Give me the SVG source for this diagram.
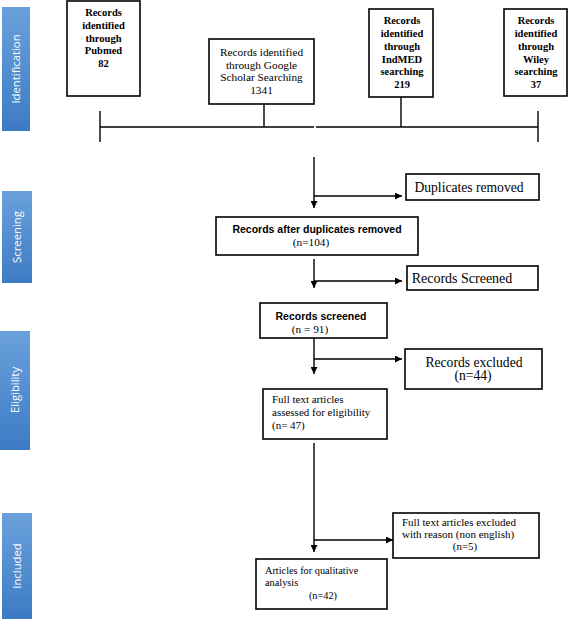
<svg xmlns="http://www.w3.org/2000/svg" width="568" height="619" viewBox="0 0 568 619">
<defs>
<linearGradient id="bg" x1="0" y1="0" x2="0" y2="1">
<stop offset="0" stop-color="#6aa1dc"/>
<stop offset="1" stop-color="#3c7bc4"/>
</linearGradient>
<marker id="ah" viewBox="0 0 10 10" refX="10" refY="5" markerWidth="7" markerHeight="7" markerUnits="userSpaceOnUse" orient="auto">
<path d="M0,0 L10,5 L0,10 z" fill="#000"/>
</marker>
</defs>
<style>
.box{fill:#fff;stroke:#000;stroke-width:1.6}
.phase{fill:url(#bg)}
.pt{fill:#fff;font-family:"Open Sans","DejaVu Sans",sans-serif;font-size:11.3px;text-anchor:middle}
.s{font-family:"Liberation Serif",serif;font-size:11.3px;fill:#000}
.sb{font-family:"Liberation Serif",serif;font-size:10.5px;font-weight:bold;fill:#000}
.c{text-anchor:middle}
.sans{font-family:"Liberation Sans",Arial,sans-serif;font-size:10.5px;font-weight:bold;fill:#000}
.f11{font-size:11px}
.f10{font-size:10.3px}
.f13{font-size:13.6px}
.f14{font-size:14px}
.ln{stroke:#000;stroke-width:1.4;fill:none}
.ar{stroke:#000;stroke-width:1.4;fill:none;marker-end:url(#ah)}
</style>

<g id="phases">
<rect class="phase" x="2" y="7" width="28" height="124"/>
<text class="pt" transform="translate(20,69) rotate(-90)">Identification</text>
<rect class="phase" x="2" y="191" width="30" height="92"/>
<text class="pt" transform="translate(21,237) rotate(-90)">Screening</text>
<rect class="phase" x="0" y="331" width="30" height="119"/>
<text class="pt" transform="translate(19,390) rotate(-90)">Eligibility</text>
<rect class="phase" x="2" y="513" width="30" height="106"/>
<text class="pt" transform="translate(21,566) rotate(-90)">Included</text>
</g>

<g id="connectors">
<line class="ln" x1="100" y1="127" x2="314" y2="127"/>
<line class="ln" x1="316" y1="127" x2="538" y2="127"/>
<line class="ln" x1="100" y1="111" x2="100" y2="142"/>
<line class="ln" x1="538" y1="111" x2="538" y2="142"/>
<line class="ln" x1="264" y1="104" x2="264" y2="127"/>
<line class="ln" x1="401" y1="97" x2="401" y2="127"/>
<line class="ar" x1="314" y1="157" x2="314" y2="208"/>
<line class="ar" x1="314" y1="196" x2="402" y2="196"/>
<line class="ar" x1="314" y1="259" x2="314" y2="288"/>
<line class="ar" x1="314" y1="281" x2="402" y2="281"/>
<line class="ar" x1="314" y1="338" x2="314" y2="374"/>
<line class="ar" x1="314" y1="359" x2="402" y2="359"/>
<line class="ar" x1="314" y1="443" x2="314" y2="552"/>
<line class="ar" x1="314" y1="540" x2="393" y2="540"/>
</g>

<g id="pubmed">
<rect class="box" x="67" y="1" width="73" height="95"/>
<text class="sb c" x="103.5" y="16">Records</text>
<text class="sb c" x="103.5" y="29">identified</text>
<text class="sb c" x="103.5" y="41.5">through</text>
<text class="sb c" x="103.5" y="54">Pubmed</text>
<text class="sb c" x="103.5" y="67">82</text>
</g>

<g id="google">
<rect class="box" x="209" y="39" width="105" height="65"/>
<text class="s c" x="261.5" y="56">Records identified</text>
<text class="s c" x="261.5" y="68.5">through Google</text>
<text class="s c" x="261.5" y="81">Scholar Searching</text>
<text class="s c" x="261.5" y="93.5">1341</text>
</g>

<g id="indmed">
<rect class="box" x="369" y="9" width="64" height="88"/>
<text class="sb c" x="402" y="24">Records</text>
<text class="sb c" x="402" y="37">identified</text>
<text class="sb c" x="402" y="50">through</text>
<text class="sb c" x="402" y="62.5">IndMED</text>
<text class="sb c" x="402" y="75">searching</text>
<text class="sb c" x="402" y="88">219</text>
</g>

<g id="wiley">
<rect class="box" x="504" y="9" width="63" height="87"/>
<text class="sb c" x="536" y="24">Records</text>
<text class="sb c" x="536" y="37">identified</text>
<text class="sb c" x="536" y="50">through</text>
<text class="sb c" x="536" y="62.5">Wiley</text>
<text class="sb c" x="536" y="75">searching</text>
<text class="sb c" x="536" y="88">37</text>
</g>

<g id="duplicates">
<rect class="box" x="406" y="174" width="133" height="26"/>
<text class="s c f13" x="469" y="192">Duplicates removed</text>
</g>

<g id="after-dup">
<rect class="box" x="216" y="217" width="202" height="38"/>
<text class="sans c" x="317" y="233">Records after duplicates removed</text>
<text class="s c" x="311" y="245.5">(n=104)</text>
</g>

<g id="records-screened-side">
<rect class="box" x="407" y="266" width="131" height="24"/>
<text class="s c f14" x="462" y="283">Records Screened</text>
</g>

<g id="records-screened">
<rect class="box" x="260" y="303" width="127" height="35"/>
<text class="sans c" x="321" y="320">Records screened</text>
<text class="s c" x="310" y="333">(n = 91)</text>
</g>

<g id="excluded">
<rect class="box" x="405" y="349" width="137" height="40"/>
<text class="s c f13" x="474" y="366.5">Records excluded</text>
<text class="s c f13" x="473" y="380">(n=44)</text>
</g>

<g id="fulltext">
<rect class="box" x="263" y="389" width="124" height="50"/>
<text class="s f11" x="272" y="403">Full text articles</text>
<text class="s f11" x="272" y="416">assessed for eligibility</text>
<text class="s f11" x="272" y="428.5">(n= 47)</text>
</g>

<g id="fulltext-excluded">
<rect class="box" x="393" y="513" width="146" height="45"/>
<text class="s f11" x="402" y="525.5">Full text articles excluded</text>
<text class="s f11" x="402" y="538">with reason (non  english)</text>
<text class="s c f11" x="465" y="550">(n=5)</text>
</g>

<g id="articles">
<rect class="box" x="256" y="559" width="131" height="50"/>
<text class="s f10" x="265" y="574">Articles for qualitative</text>
<text class="s f10" x="265" y="585.5">analysis</text>
<text class="s c f10" x="323" y="599">(n=42)</text>
</g>
</svg>
